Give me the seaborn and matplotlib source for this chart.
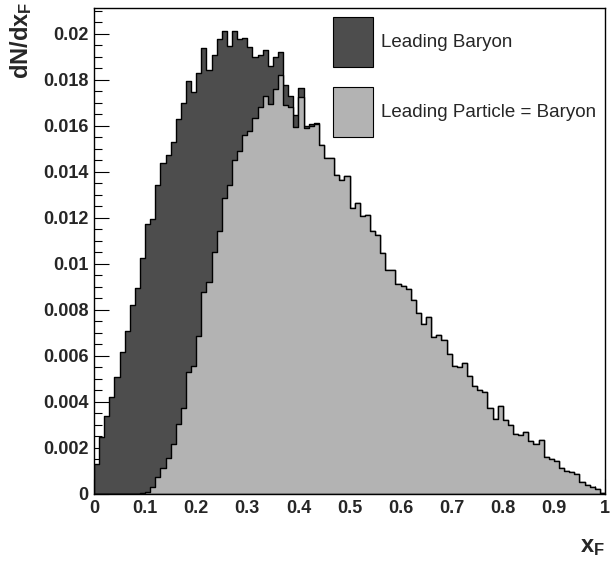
import numpy as np
import pandas as pd
import matplotlib
matplotlib.use("Agg")
import matplotlib.pyplot as plt
from matplotlib.patches import Patch
from matplotlib.ticker import MultipleLocator, FuncFormatter
import seaborn as sns

# %%
# 100 bins of x_F between 0 and 1, dN/dx_F
n_bins = 100
bin_centers = (np.arange(n_bins) + 0.5) / n_bins

leading_baryon = [
    0.00131, 0.00248, 0.00339, 0.00423, 0.00510, 0.00619, 0.00709, 0.00823, 0.00897, 0.01027,
    0.01172, 0.01194, 0.01343, 0.01440, 0.01472, 0.01532, 0.01630, 0.01699, 0.01797, 0.01749,
    0.01830, 0.01938, 0.01842, 0.01910, 0.01979, 0.02014, 0.01948, 0.02012, 0.01978, 0.01981,
    0.01945, 0.01901, 0.01910, 0.01930, 0.01861, 0.01901, 0.01923, 0.01776, 0.01732, 0.01648,
    0.01766, 0.01600, 0.01608, 0.01612, 0.01517, 0.01460, 0.01462, 0.01387, 0.01365, 0.01383,
    0.01244, 0.01267, 0.01208, 0.01213, 0.01142, 0.01124, 0.01047, 0.00974, 0.00974, 0.00913,
    0.00905, 0.00889, 0.00842, 0.00786, 0.00740, 0.00771, 0.00681, 0.00693, 0.00668, 0.00607,
    0.00557, 0.00553, 0.00571, 0.00511, 0.00468, 0.00450, 0.00445, 0.00375, 0.00326, 0.00381,
    0.00323, 0.00300, 0.00262, 0.00257, 0.00270, 0.00232, 0.00218, 0.00236, 0.00163, 0.00150,
    0.00143, 0.00113, 0.00098, 0.00095, 0.00085, 0.00051, 0.00039, 0.00032, 0.00021, 0.00006,
]

leading_particle_baryon = [
    0.0, 0.0, 0.0, 0.0, 0.0, 0.0, 0.0, 0.0, 0.0, 0.00003,
    0.00007, 0.00029, 0.00072, 0.00112, 0.00155, 0.00217, 0.00304, 0.00375, 0.00532, 0.00557,
    0.00685, 0.00880, 0.00923, 0.01051, 0.01142, 0.01287, 0.01345, 0.01451, 0.01490, 0.01561,
    0.01578, 0.01633, 0.01681, 0.01730, 0.01696, 0.01760, 0.01822, 0.01690, 0.01682, 0.01597,
    0.01727, 0.01592, 0.01600, 0.01607, 0.01517, 0.01460, 0.01462, 0.01387, 0.01365, 0.01383,
    0.01244, 0.01267, 0.01208, 0.01213, 0.01142, 0.01124, 0.01047, 0.00974, 0.00974, 0.00913,
    0.00905, 0.00889, 0.00842, 0.00786, 0.00740, 0.00771, 0.00681, 0.00693, 0.00668, 0.00607,
    0.00557, 0.00553, 0.00571, 0.00511, 0.00468, 0.00450, 0.00445, 0.00375, 0.00326, 0.00381,
    0.00323, 0.00300, 0.00262, 0.00257, 0.00270, 0.00232, 0.00218, 0.00236, 0.00163, 0.00150,
    0.00143, 0.00113, 0.00098, 0.00095, 0.00085, 0.00051, 0.00039, 0.00032, 0.00021, 0.00006,
]

labels = ["Leading Baryon", "Leading Particle = Baryon"]
colors = ["#4d4d4d", "#b3b3b3"]

df = pd.DataFrame({
    "xF": bin_centers,
    "lead_baryon": leading_baryon,
    "lead_particle": leading_particle_baryon,
})

# %%
sns.set_style("white")
plt.rcParams["font.family"] = ["Liberation Sans", "DejaVu Sans"]
plt.rcParams["mathtext.fontset"] = "custom"
plt.rcParams["mathtext.rm"] = "Liberation Sans"
plt.rcParams["mathtext.bf"] = "Liberation Sans:bold"

W, H = 611, 572
fig = plt.figure(figsize=(W / 100, H / 100), dpi=100)
ax = fig.add_axes([94 / W, 1 - 494 / H, (605 - 94) / W, (494 - 7.5) / H])

for col, c in zip(["lead_baryon", "lead_particle"], colors):
    sns.histplot(data=df, x="xF", weights=col, bins=n_bins, binrange=(0, 1), element="step",
                 fill=True, color=c, alpha=1, edgecolor="black", linewidth=1.0, ax=ax)

ax.set_xlim(0, 1)
ax.set_ylim(0, 1.05 * max(leading_baryon))
ax.set_xlabel("")
ax.set_ylabel("")

for s in ax.spines.values():
    s.set_color("black")
    s.set_linewidth(1.0)

ax.xaxis.set_major_locator(MultipleLocator(0.1))
ax.xaxis.set_minor_locator(MultipleLocator(0.02))
ax.yaxis.set_major_locator(MultipleLocator(0.002))
ax.yaxis.set_minor_locator(MultipleLocator(0.0005))
fmt = FuncFormatter(lambda v, p: "0" if abs(v) < 1e-12 else f"{v:g}")
ax.xaxis.set_major_formatter(fmt)
ax.yaxis.set_major_formatter(fmt)
ax.tick_params(which="both", direction="in", top=False, right=False, left=True, bottom=True,
               width=0.8, color="black")
ax.tick_params(which="major", length=11, labelsize=13, pad=4)
ax.tick_params(which="minor", length=5.5)
for t in ax.get_xticklabels() + ax.get_yticklabels():
    t.set_fontweight("bold")

fig.text(21 / W, 1 - 2 / H, r"$\mathbf{dN/dx_F}$", rotation=90, ha="center", va="top", fontsize=17)
fig.text(605 / W, 20 / H, r"$\mathbf{x_F}$", ha="right", va="baseline", fontsize=17)

handles = [Patch(facecolor=c, edgecolor="black", linewidth=0.8) for c in colors]
ax.legend(handles, labels, loc="upper left", bbox_to_anchor=(333 / W, 1 - 17 / H),
          bbox_transform=fig.transFigure, frameon=False, fontsize=13.5,
          handlelength=2.13, handleheight=3.73, handletextpad=0.43, labelspacing=1.07,
          borderpad=0, borderaxespad=0)

fig.savefig("out.png", dpi=100)
